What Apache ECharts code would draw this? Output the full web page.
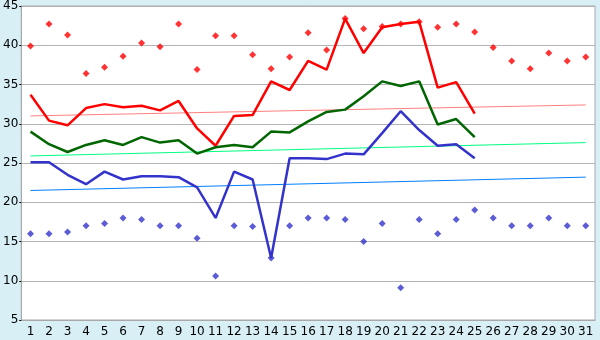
<!DOCTYPE html>
<html>
<head>
<meta charset="utf-8">
<script src="https://cdn.jsdelivr.net/npm/echarts@6/dist/echarts.min.js"></script>
<style>
  html, body { margin: 0; padding: 0; background: #d8eff6; }
  #chart { width: 600px; height: 340px; }
</style>
</head>
<body>
<div id="chart"></div>
<script>
// day numbers along the x axis
const days = Array.from({ length: 31 }, (_, i) => String(i + 1));

// daily highs (red diamonds) and lows (blue diamonds)
const dailyMax = [39.9, 42.7, 41.3, 36.4, 37.2, 38.6, 40.3, 39.8, 42.7, 36.9,
  41.2, 41.2, 38.8, 37.0, 38.5, 41.6, 39.4, 43.4, 42.1, 42.4,
  42.7, 43.0, 42.3, 42.7, 41.7, 39.7, 38.0, 37.0, 39.0, 38.0, 38.5];
const dailyMin = [16.0, 16.0, 16.2, 17.0, 17.3, 18.0, 17.8, 17.0, 17.0, 15.4,
  10.6, 17.0, 16.9, 12.9, 17.0, 18.0, 18.0, 17.8, 15.0, 17.3,
  9.1, 17.8, 16.0, 17.8, 19.0, 18.0, 17.0, 17.0, 18.0, 17.0, 17.0];

// lines, days 1-25
const lineMax = [33.7, 30.4, 29.8, 32.0, 32.5, 32.1, 32.3, 31.7, 32.9, 29.4,
  27.2, 31.0, 31.1, 35.4, 34.3, 38.0, 36.9, 43.4, 39.0, 42.3,
  42.7, 43.0, 34.6, 35.3, 31.3];
const lineMean = [29.0, 27.4, 26.4, 27.3, 27.9, 27.3, 28.3, 27.6, 27.9, 26.2,
  27.0, 27.3, 27.0, 29.0, 28.9, 30.3, 31.5, 31.8, 33.5, 35.4,
  34.8, 35.4, 29.9, 30.6, 28.3];
const lineMin = [25.1, 25.1, 23.5, 22.3, 23.9, 22.9, 23.3, 23.3, 23.2, 21.9,
  18.0, 23.9, 22.9, 12.9, 25.6, 25.6, 25.5, 26.2, 26.1, 28.8,
  31.6, 29.2, 27.2, 27.4, 25.6];

// thin reference lines: value on day 1 and on day 31
const refMax = [31.0, 32.4];
const refMean = [25.9, 27.6];
const refMin = [21.5, 23.2];

const chart = echarts.init(document.getElementById('chart'));

const labelFont = { fontFamily: 'DejaVu Sans', fontSize: 12, color: '#000' };

function refLine(ends, color) {
  return {
    type: 'line',
    data: [[0, ends[0]], [days.length - 1, ends[1]]],
    symbol: 'none',
    lineStyle: { color: color, width: 1 },
    silent: true,
    z: 2
  };
}

function mainLine(values, color) {
  return {
    type: 'line',
    data: values,
    symbol: 'none',
    lineStyle: { color: color, width: 2.5 },
    z: 3
  };
}

function dots(values, color) {
  return {
    type: 'scatter',
    data: values,
    symbol: 'diamond',
    symbolSize: 7,
    itemStyle: { color: color },
    z: 4
  };
}

chart.setOption({
  animation: false,
  backgroundColor: '#d8eff6',
  grid: {
    left: 20, right: 5, top: 5, bottom: 20,
    show: true,
    backgroundColor: '#ffffff',
    borderColor: '#a8a8a8',
    borderWidth: 1
  },
  xAxis: {
    type: 'category',
    data: days,
    boundaryGap: true,
    axisLine: { lineStyle: { color: '#a8a8a8' } },
    axisTick: { alignWithLabel: true, length: 5, lineStyle: { color: '#000' } },
    axisLabel: { ...labelFont, margin: 6, interval: 0 },
    splitLine: { show: false }
  },
  yAxis: {
    type: 'value',
    min: 5,
    max: 45,
    interval: 5,
    axisLine: { show: true, lineStyle: { color: '#a8a8a8' } },
    axisTick: { show: true, length: 2, lineStyle: { color: '#000' } },
    axisLabel: { ...labelFont, margin: 3 },
    splitLine: { lineStyle: { color: '#b4b4b4', width: 1 } }
  },
  series: [
    refLine(refMax, '#ff8080'),
    refLine(refMean, '#00ff80'),
    refLine(refMin, '#0080ff'),
    mainLine(lineMax, '#ff0000'),
    mainLine(lineMean, '#006600'),
    mainLine(lineMin, '#3333cc'),
    dots(dailyMax, '#ff0000'),
    dots(dailyMin, '#3333cc')
  ]
});
</script>
</body>
</html>
